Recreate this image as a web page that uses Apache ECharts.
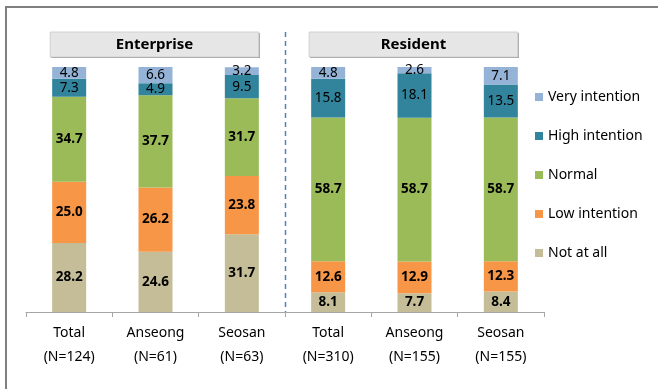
<!DOCTYPE html>
<html>
<head>
<meta charset="utf-8">
<script src="https://cdn.jsdelivr.net/npm/echarts@6/dist/echarts.min.js"></script>
<style>
html,body{margin:0;padding:0;background:#fff;}
#chart{width:658px;height:389px;}
</style>
</head>
<body>
<div id="chart"></div>
<script>
var categories = ['Total\n(N=124)', 'Anseong\n(N=61)', 'Seosan\n(N=63)', 'Total\n(N=310)', 'Anseong\n(N=155)', 'Seosan\n(N=155)'];
var groupNames = ['Enterprise', 'Resident'];
var notAtAll = [28.2, 24.6, 31.7, 8.1, 7.7, 8.4];
var lowIntention = [25.0, 26.2, 23.8, 12.6, 12.9, 12.3];
var normal = [34.7, 37.7, 31.7, 58.7, 58.7, 58.7];
var highIntention = [7.3, 4.9, 9.5, 15.8, 18.1, 13.5];
var veryIntention = [4.8, 6.6, 3.2, 4.8, 2.6, 7.1];

var FONT = '"Noto Sans", "Open Sans", sans-serif';
var chart = echarts.init(document.getElementById('chart'), null, {renderer: 'canvas'});

function mk(name, data, color, bold) {
  return {
    name: name, type: 'bar', stack: 'all', data: data, barWidth: 34,
    itemStyle: {color: color},
    label: {
      show: true, position: 'inside', color: '#000',
      fontFamily: FONT, fontSize: 13.5, fontWeight: bold ? 'bold' : 'normal',
      formatter: function (p) { return p.value.toFixed(1); }
    },
    emphasis: {disabled: true}
  };
}

var option = {
  animation: false,
  backgroundColor: '#fff',
  grid: {left: 26, right: 114, top: 67, bottom: 77, containLabel: false},
  legend: {
    orient: 'vertical', left: 530, top: 85,
    itemWidth: 8, itemHeight: 8, itemGap: 25, icon: 'rect',
    textStyle: {fontFamily: FONT, fontSize: 14, color: '#000'},
    data: ['Very intention', 'High intention', 'Normal', 'Low intention', 'Not at all']
  },
  xAxis: {
    type: 'category', data: categories,
    axisLine: {lineStyle: {color: '#a6a6a6', width: 1}},
    axisTick: {show: true, length: 5, lineStyle: {color: '#a6a6a6'}},
    axisLabel: {fontFamily: FONT, fontSize: 14, color: '#000', lineHeight: 24, margin: 9, interval: 0}
  },
  yAxis: {type: 'value', min: 0, max: 100, show: false, splitLine: {show: false}},
  series: [
    mk('Not at all', notAtAll, '#c4bd97', true),
    mk('Low intention', lowIntention, '#f79646', true),
    mk('Normal', normal, '#9bbb59', true),
    mk('High intention', highIntention, '#31849b', false),
    mk('Very intention', veryIntention, '#95b3d7', false)
  ]
};
chart.setOption(option);

var bw = 34;
var yBase = chart.convertToPixel({yAxisIndex: 0}, 0);
function headerBox(i0, i2, text) {
  var left = chart.convertToPixel({xAxisIndex: 0}, i0) - bw / 2 - 2;
  var right = chart.convertToPixel({xAxisIndex: 0}, i2) + bw / 2;
  var top = 32, h = 25;
  return [
    {type: 'rect', shape: {x: left + 1, y: top + 1, width: right - left, height: h}, style: {fill: '#8c8c8c'}, silent: true},
    {type: 'rect', shape: {x: left, y: top, width: right - left, height: h}, style: {fill: '#e6e6e6', stroke: '#d0d0d0', lineWidth: 1}, silent: true},
    {type: 'text', x: (left + right) / 2, y: top + h / 2, style: {text: text, fill: '#000', font: 'bold 15px ' + FONT, align: 'center', verticalAlign: 'middle'}, silent: true}
  ];
}
var sepX = Math.round((chart.convertToPixel({xAxisIndex: 0}, 2) + chart.convertToPixel({xAxisIndex: 0}, 3)) / 2) + 0.5;
var g = [
  {type: 'polyline', shape: {points: [[6, 389], [6, 7], [658, 7]]}, style: {stroke: '#7f7f7f', lineWidth: 2, fill: null}, silent: true},
  {type: 'line', shape: {x1: sepX, y1: 32, x2: sepX, y2: yBase}, style: {stroke: '#4f81bd', lineWidth: 1.5, lineDash: [5, 4]}, silent: true}
].concat(headerBox(0, 2, groupNames[0])).concat(headerBox(3, 5, groupNames[1]));
chart.setOption({graphic: g});
</script>
</body>
</html>
